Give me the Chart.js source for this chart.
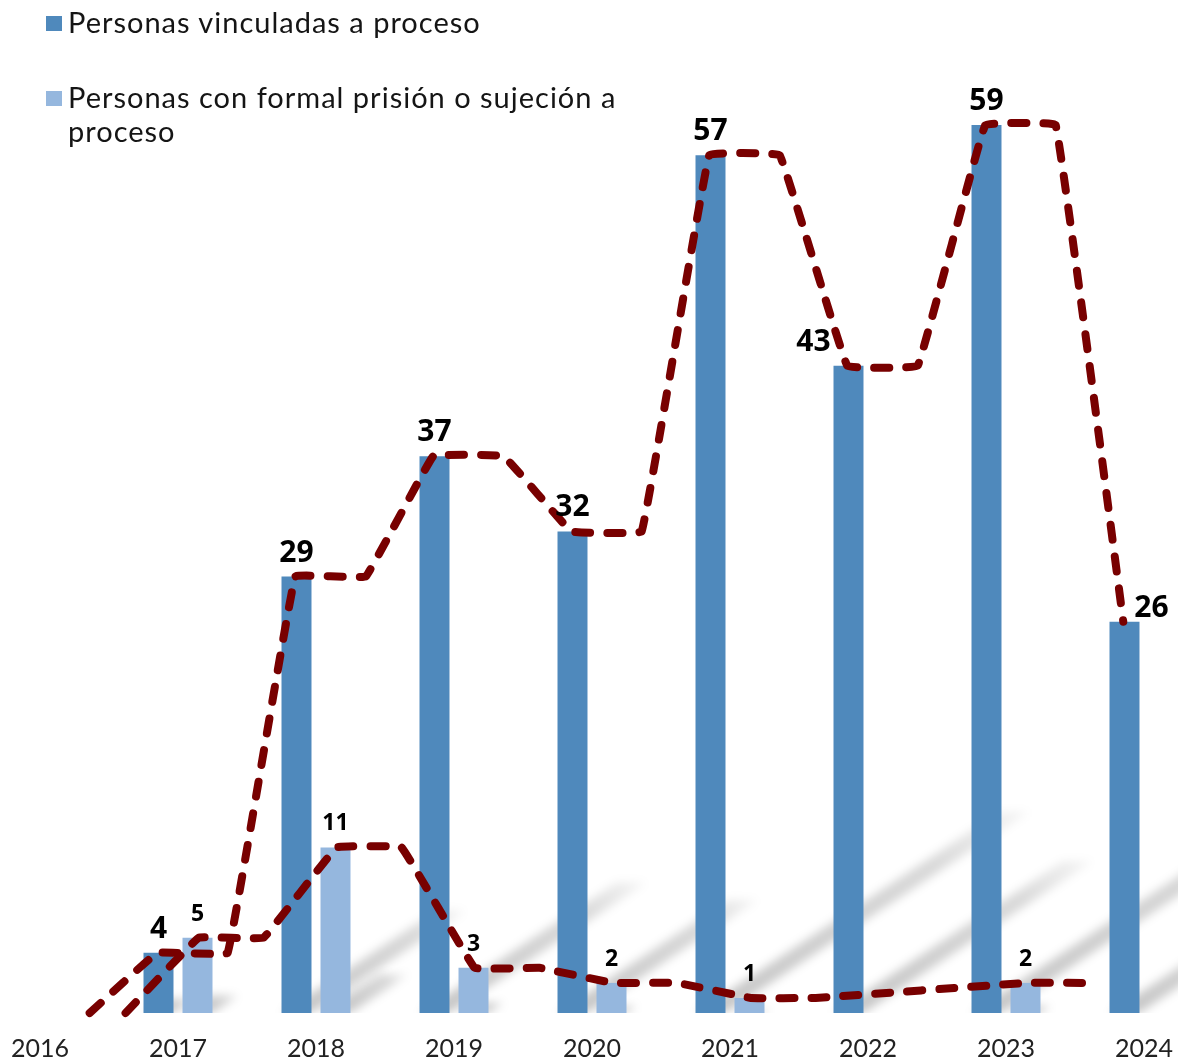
<!DOCTYPE html>
<html>
<head>
<meta charset="utf-8">
<script src="https://cdn.jsdelivr.net/npm/chart.js@4.4.1/dist/chart.umd.min.js"></script>
<style>
  html, body { margin: 0; padding: 0; background: #ffffff; }
  #wrap { position: relative; width: 1178px; height: 1060px; overflow: hidden; }
  #chart { position: absolute; left: 0; top: 0; }
  #legend { position: absolute; left: 46px; top: 0; font-family: Lato, "Open Sans", sans-serif; font-size: 29px; line-height: 34px; letter-spacing: 1px; color: #151515; }
  .item { position: absolute; left: 0; display: flex; align-items: flex-start; width: 620px; }
  .sw { width: 16px; height: 15px; margin-top: 11px; margin-right: 6px; flex: none; }
</style>
</head>
<body>
<div id="wrap">
  <canvas id="chart" width="1178" height="1060"></canvas>
  <div id="legend"></div>
</div>
<script>
// ---- data ----
const years = [2016, 2017, 2018, 2019, 2020, 2021, 2022, 2023, 2024];
const tickLabels = ['2016', '2017', '2018', '2019', '2020', '2021', '2022', '2023', '2024'];
const vinculadas = [null, 4, 29, 37, 32, 57, 43, 59, 26];
const formalPrision = [null, 5, 11, 3, 2, 1, null, 2, null];
const seriesNames = ['Personas vinculadas a proceso', 'Personas con formal prisión o sujeción a proceso'];

// ---- styles ----
const darkBlue = '#4F89BC';
const lightBlue = '#95B7DE';
const trendRed = '#780000';
const legendTops = [5, 80];
const darkLabelDx = [0, 0, 0, 0, 0, 0, -35, 0, 27];
const darkLabelDy = [0, 0, 0, 0, 0, 0, 0, 0, 10];

// dashed trend lines built from the series values (plateau start/end offsets in years)
function trendPoints(vals, a, b) {
  const pts = [];
  years.forEach((yr, i) => {
    let v = vals[i];
    if (v == null && i === 0) v = 0;
    if (v == null) return;
    pts.push({ x: yr + a, y: v });
    if (i < years.length - 1) pts.push({ x: yr + b, y: v });
  });
  pts.shift();
  return pts;
}

const toXY = vals => years.map((yr, i) => ({ x: yr, y: vals[i] }));

// legend (HTML, built from series names)
const legendEl = document.getElementById('legend');
[darkBlue, lightBlue].forEach((c, i) => {
  const it = document.createElement('div');
  it.className = 'item';
  it.style.top = legendTops[i] + 'px';
  const sw = document.createElement('div');
  sw.className = 'sw';
  sw.style.background = c;
  const tx = document.createElement('div');
  tx.textContent = seriesNames[i];
  tx.style.width = '580px';
  it.appendChild(sw); it.appendChild(tx);
  legendEl.appendChild(it);
});

const shadowPlugin = {
  id: 'barShadows',
  beforeDatasetsDraw(chart) {
    const ctx = chart.ctx;
    const area = chart.chartArea;
    ctx.save();
    ctx.beginPath();
    ctx.rect(0, 0, chart.width, area.bottom);
    ctx.clip();
    ctx.filter = 'blur(5px)';
    [0, 1].forEach(di => {
      const meta = chart.getDatasetMeta(di);
      meta.data.forEach((el, i) => {
        const v = chart.data.datasets[di].data[i].y;
        if (v == null) return;
        const p = el.getProps(['x', 'y', 'base', 'width'], true);
        const h = p.base - p.y;
        const dx = h * 0.355, dy = h * 0.235;
        const x0 = p.x - p.width / 2, x1 = p.x + p.width / 2;
        const g = ctx.createLinearGradient(x1, p.base, x1 + dx, p.base - dy);
        g.addColorStop(0, 'rgba(0,0,0,0.22)');
        g.addColorStop(0.7, 'rgba(0,0,0,0.15)');
        g.addColorStop(1, 'rgba(0,0,0,0.03)');
        ctx.fillStyle = g;
        ctx.beginPath();
        ctx.moveTo(x0, p.base);
        ctx.lineTo(x1, p.base);
        ctx.lineTo(x1 + dx, p.base - dy);
        ctx.lineTo(x0 + dx, p.base - dy);
        ctx.closePath();
        ctx.fill();
      });
    });
    ctx.restore();
  }
};

const labelPlugin = {
  id: 'valueLabels',
  afterDatasetsDraw(chart) {
    const ctx = chart.ctx;
    ctx.save();
    ctx.fillStyle = '#000000';
    ctx.textAlign = 'center';
    ctx.textBaseline = 'alphabetic';
    [0, 1].forEach(di => {
      const meta = chart.getDatasetMeta(di);
      ctx.font = di === 0 ? 'bold 30px "Open Sans", Lato, sans-serif' : 'bold 23px "Open Sans", Lato, sans-serif';
      meta.data.forEach((el, i) => {
        const v = chart.data.datasets[di].data[i].y;
        if (v == null) return;
        const p = el.getProps(['x', 'y'], true);
        const dx = di === 0 ? darkLabelDx[i] : 0;
        const dy = di === 0 ? darkLabelDy[i] : 0;
        const gap = di === 0 ? 15 : 17;
        ctx.fillText(String(v), p.x + dx, p.y - gap + dy);
      });
    });
    ctx.restore();
  }
};

new Chart(document.getElementById('chart'), {
  type: 'bar',
  data: {
    datasets: [
      { type: 'bar', label: seriesNames[0], data: toXY(vinculadas), backgroundColor: darkBlue, borderWidth: 0, order: 1,
        categoryPercentage: 0.5652, barPercentage: 0.769 },
      { type: 'bar', label: seriesNames[1], data: toXY(formalPrision), backgroundColor: lightBlue, borderWidth: 0, order: 1,
        categoryPercentage: 0.5652, barPercentage: 0.769 },
      { type: 'line', label: 'tendencia1', data: trendPoints(vinculadas, -0.15, 0.36), borderColor: trendRed, borderWidth: 8,
        borderDash: [15, 17], borderCapStyle: 'round', borderJoinStyle: 'round', pointRadius: 0, tension: 0.05, fill: false, clip: false, order: 0 },
      { type: 'line', label: 'tendencia2', data: trendPoints(formalPrision, 0.15, 0.62), borderColor: trendRed, borderWidth: 8,
        borderDash: [15, 17], borderCapStyle: 'round', borderJoinStyle: 'round', pointRadius: 0, tension: 0.05, fill: false, clip: false, spanGaps: true, order: 0 }
    ]
  },
  options: {
    responsive: false,
    animation: false,
    devicePixelRatio: 1,
    layout: { padding: { top: 110, left: 0, right: 0, bottom: -24 } },
    plugins: { legend: { display: false }, tooltip: { enabled: false } },
    scales: {
      x: {
        type: 'linear',
        offset: false,
        min: 2016 - 40 / 138,
        max: 2024 + 34 / 138,
        afterBuildTicks: s => { s.ticks = years.map(v => ({ value: v })); },
        grid: { display: false, drawTicks: false },
        border: { display: false },
        ticks: {
          autoSkip: false,
          maxRotation: 0,
          padding: 0,
          color: '#222222',
          font: { family: 'Lato', size: 25, lineHeight: 2.84 },
          callback: (v, i) => tickLabels[i]
        }
      },
      y: { display: false, min: 0, max: 60 }
    }
  },
  plugins: [shadowPlugin, labelPlugin]
});
</script>
</body>
</html>
